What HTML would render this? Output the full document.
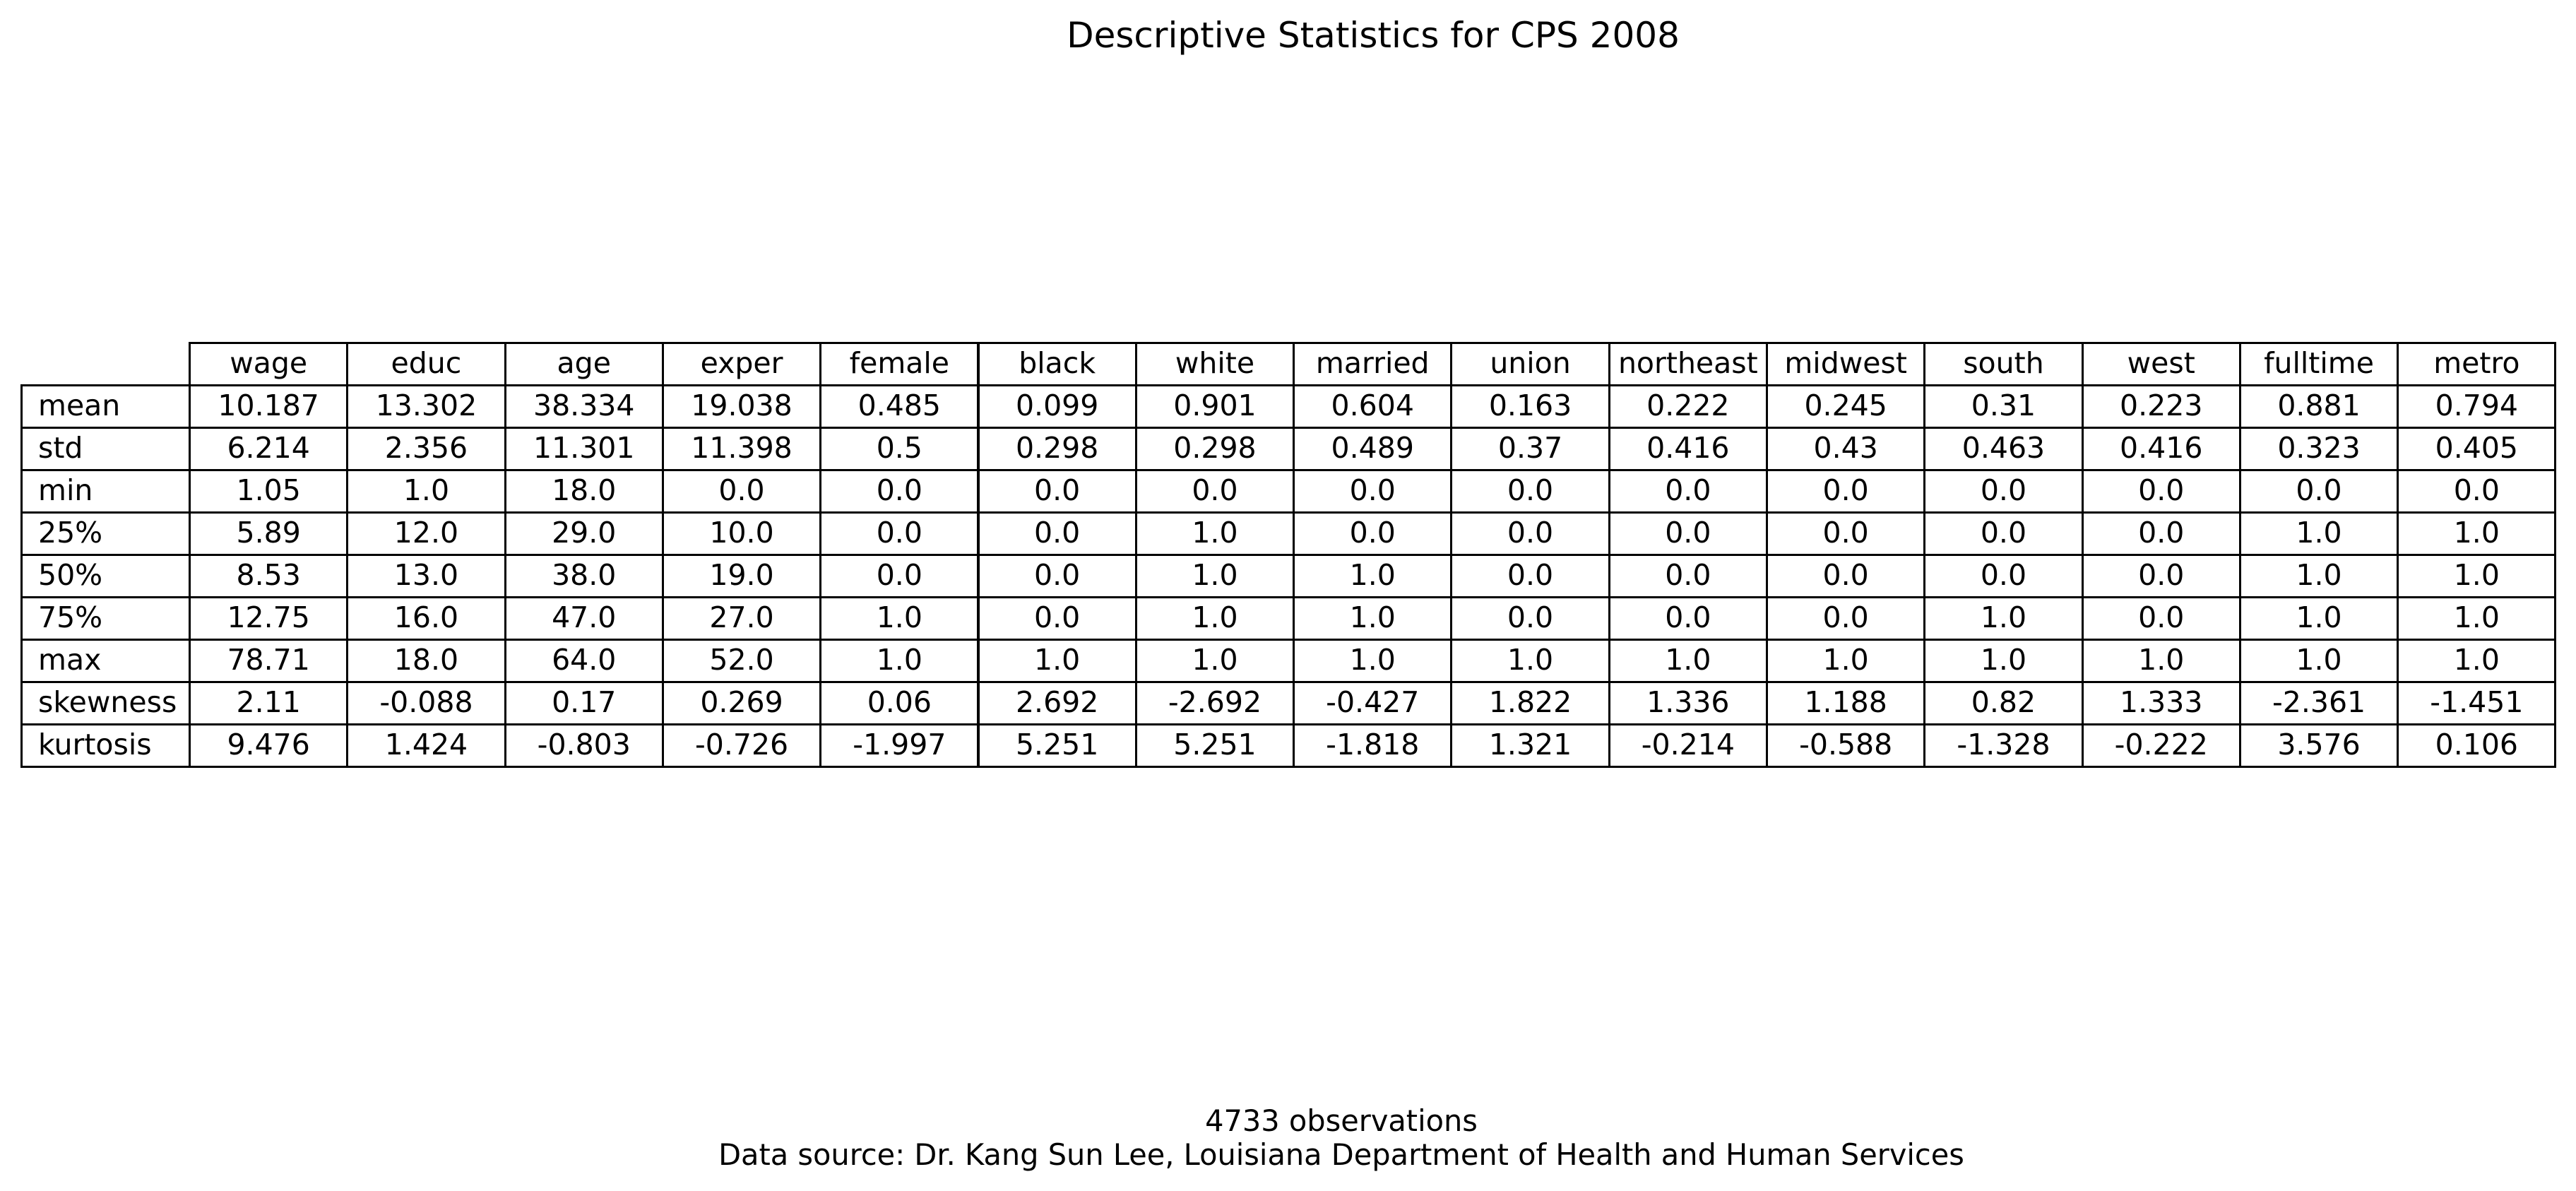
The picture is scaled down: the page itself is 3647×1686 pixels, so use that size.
<!DOCTYPE html>
<html><head><meta charset="utf-8">
<style>
body{margin:0;background:#fff;}
#root{position:relative;width:3647px;height:1686px;background:#fff;font-family:"DejaVu Sans","Liberation Sans",sans-serif;color:#000;overflow:hidden;}
.t{position:absolute;white-space:nowrap;}
.cell{position:absolute;box-sizing:border-box;border:3px solid #000;font-size:41px;line-height:54px;white-space:nowrap;}
</style></head>
<body>
<div id="root">
<div class="t" style="left:0;width:3888px;top:21px;text-align:center;font-size:50px;">Descriptive Statistics for CPS 2008</div>
<div id="table"></div>
<div class="t" style="left:0;width:3798px;top:1562px;text-align:center;font-size:41.5px;">4733 observations</div>
<div class="t" style="left:0;width:3798px;top:1610px;text-align:center;font-size:41.5px;">Data source: Dr. Kang Sun Lee, Louisiana Department of Health and Human Services</div>
</div>
<script>
const columns=["wage","educ","age","exper","female","black","white","married","union","northeast","midwest","south","west","fulltime","metro"];
const rowLabels=["mean","std","min","25%","50%","75%","max","skewness","kurtosis"];
const rowMean=["10.187","13.302","38.334","19.038","0.485","0.099","0.901","0.604","0.163","0.222","0.245","0.31","0.223","0.881","0.794"];
const rowStd=["6.214","2.356","11.301","11.398","0.5","0.298","0.298","0.489","0.37","0.416","0.43","0.463","0.416","0.323","0.405"];
const rowMin=["1.05","1.0","18.0","0.0","0.0","0.0","0.0","0.0","0.0","0.0","0.0","0.0","0.0","0.0","0.0"];
const row25=["5.89","12.0","29.0","10.0","0.0","0.0","1.0","0.0","0.0","0.0","0.0","0.0","0.0","1.0","1.0"];
const row50=["8.53","13.0","38.0","19.0","0.0","0.0","1.0","1.0","0.0","0.0","0.0","0.0","0.0","1.0","1.0"];
const row75=["12.75","16.0","47.0","27.0","1.0","0.0","1.0","1.0","0.0","0.0","0.0","1.0","0.0","1.0","1.0"];
const rowMax=["78.71","18.0","64.0","52.0","1.0","1.0","1.0","1.0","1.0","1.0","1.0","1.0","1.0","1.0","1.0"];
const rowSkew=["2.11","-0.088","0.17","0.269","0.06","2.692","-2.692","-0.427","1.822","1.336","1.188","0.82","1.333","-2.361","-1.451"];
const rowKurt=["9.476","1.424","-0.803","-0.726","-1.997","5.251","5.251","-1.818","1.321","-0.214","-0.588","-1.328","-0.222","3.576","0.106"];
const rows=[rowMean,rowStd,rowMin,row25,row50,row75,rowMax,rowSkew,rowKurt];

const tbl=document.getElementById('table');
const X0=29, LW=238, CW=223.3, Y0=484, RH=60;
function mk(x,y,w,txt,align,name){
  const d=document.createElement('div');
  d.className='cell';
  
  
  d.style.left=x+'px';d.style.top=y+'px';d.style.width=(w+3)+'px';d.style.height=(RH+3)+'px';
  d.style.textAlign=align;
  if(align==='left')d.style.paddingLeft='22px';
  d.textContent=txt;
  tbl.appendChild(d);
}
columns.forEach((c,i)=>mk(X0+LW+i*CW,Y0,CW,c,'center','column-header'));
rowLabels.forEach((r,j)=>{
  const y=Y0+RH*(j+1);
  mk(X0,y,LW,r,'left','row-label');
  rows[j].forEach((v,i)=>mk(X0+LW+i*CW,y,CW,v,'center','table-cell'));
});
</script>
</body></html>
